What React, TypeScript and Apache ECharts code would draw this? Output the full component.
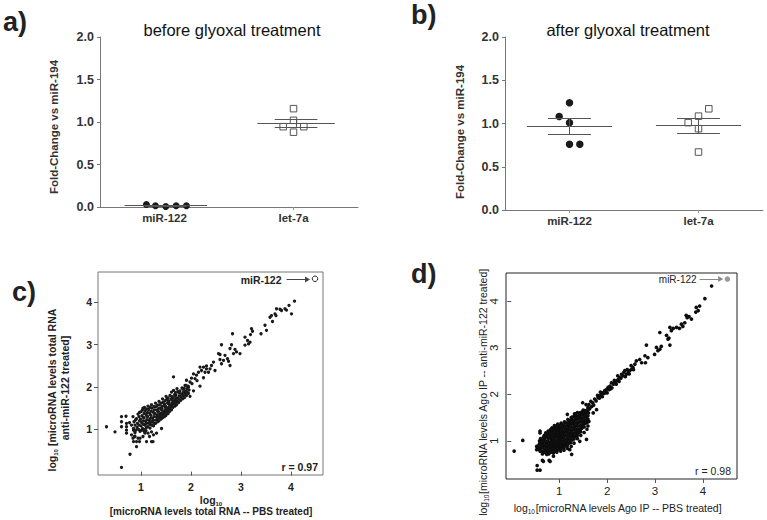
import React, { useEffect, useRef } from 'react';
import * as echarts from 'echarts';

const FONT = '"Liberation Sans", Arial, Helvetica, sans-serif';

// ---------- panels a) and b): fold-change dot plots ----------
const categories = ['miR-122', 'let-7a'];
const yTicksAB = [0, 0.5, 1.0, 1.5, 2.0];

// x = category slot position (jitter), y = fold change
const aMiR122X = [0.36, 0.43, 0.51, 0.59, 0.67];
const aMiR122Y = [0.03, 0.015, 0.005, 0.015, 0.015];
const aLet7aX = [1.5, 1.5, 1.42, 1.58, 1.5];
const aLet7aY = [1.157, 1.02, 0.945, 0.945, 0.88];

const bMiR122X = [0.5, 0.42, 0.5, 0.5, 0.58];
const bMiR122Y = [1.24, 1.08, 1.01, 0.76, 0.76];
const bLet7aX = [1.58, 1.5, 1.42, 1.5, 1.5];
const bLet7aY = [1.17, 1.085, 1.01, 0.94, 0.67];

// ---------- panel c): total RNA, log10 levels ----------
const logTicks = [1, 2, 3, 4];
const cMiR122: [number, number] = [4.48, 4.56];
const cPoints: [number, number][] = [
  // sparse low end
  [0.31, 1.06], [0.48, 0.94], [0.61, 1.3], [0.61, 1.18], [0.61, 1.06], [0.61, 0.1], [0.7, 1.31],
  [0.71, 1.14], [0.71, 1.06], [0.71, 0.91], [0.71, 0.98], [0.78, 0.41], [0.81, 1.1], [0.77, 1.16],
  [0.81, 0.87], [0.85, 0.98], [0.88, 0.83], [0.91, 0.71], [0.85, 0.71], [0.91, 0.59], [0.98, 0.79],
  [0.97, 0.71], [1.08, 0.91], [1.11, 0.71], [1.21, 0.71], [1.24, 0.71], [1.25, 0.87], [1.31, 0.91],
  [1.41, 1.02], [0.84, 0.79], [0.94, 0.79], [1.04, 0.83], [1.17, 0.83], [1.07, 0.94], [1.14, 0.91],
  [1.21, 0.94], [0.87, 0.83], [1.01, 0.98],
  // dense core
  [0.85, 1.02], [0.86, 1.18], [0.84, 1.3], [0.88, 0.92],
  [0.92, 1.05], [0.93, 1.14], [0.91, 1.25], [0.94, 1.36], [0.9, 0.98],
  [0.98, 0.95], [1.0, 1.08], [1.01, 1.16], [0.99, 1.24], [1.02, 1.32], [1.0, 1.42], [1.03, 1.02], [1.04, 1.5],
  [1.07, 1.0], [1.08, 1.1], [1.09, 1.19], [1.06, 1.27], [1.1, 1.35], [1.08, 1.44], [1.11, 1.05], [1.07, 1.52],
  [1.14, 1.06], [1.15, 1.15], [1.16, 1.22], [1.13, 1.3], [1.17, 1.38], [1.15, 1.47], [1.18, 1.12], [1.14, 1.55],
  [1.21, 1.1], [1.22, 1.18], [1.23, 1.26], [1.2, 1.33], [1.24, 1.41], [1.22, 1.5], [1.25, 1.21], [1.21, 1.58],
  [1.29, 1.14], [1.3, 1.22], [1.31, 1.3], [1.28, 1.37], [1.32, 1.45], [1.3, 1.53], [1.33, 1.28], [1.29, 1.62],
  [1.36, 1.2], [1.37, 1.28], [1.38, 1.35], [1.35, 1.42], [1.39, 1.5], [1.37, 1.58], [1.4, 1.33], [1.36, 1.66],
  [1.43, 1.27], [1.44, 1.35], [1.45, 1.42], [1.42, 1.49], [1.46, 1.56], [1.44, 1.64], [1.47, 1.39], [1.43, 1.72],
  [1.5, 1.33], [1.51, 1.41], [1.52, 1.48], [1.49, 1.55], [1.53, 1.62], [1.51, 1.7], [1.54, 1.45], [1.5, 1.78],
  [1.57, 1.42], [1.58, 1.5], [1.59, 1.57], [1.56, 1.64], [1.6, 1.71], [1.58, 1.8], [1.61, 1.88],
  [1.64, 1.52], [1.65, 1.6], [1.66, 1.67], [1.63, 1.74], [1.67, 1.82], [1.65, 1.92],
  [1.71, 1.58], [1.72, 1.66], [1.73, 1.74], [1.7, 1.81], [1.74, 1.89], [1.72, 1.96],
  [1.79, 1.68], [1.8, 1.76], [1.81, 1.84], [1.78, 1.91], [1.82, 1.98],
  [1.87, 1.75], [1.88, 1.83], [1.89, 1.9], [1.86, 1.97], [1.9, 2.04],
  [1.95, 1.85], [1.96, 1.93], [1.94, 2.02],
  // dense core, in-between points
  [0.88, 1.1], [0.89, 1.22], [0.87, 0.97],
  [0.95, 1.0], [0.96, 1.1], [0.97, 1.2], [0.96, 1.3], [0.97, 1.4],
  [1.04, 0.98], [1.05, 1.12], [1.04, 1.2], [1.05, 1.28], [1.06, 1.38], [1.03, 1.46],
  [1.11, 1.14], [1.12, 1.23], [1.12, 1.31], [1.13, 1.4], [1.11, 1.48], [1.1, 0.97],
  [1.18, 1.03], [1.19, 1.18], [1.19, 1.26], [1.2, 1.43], [1.18, 1.52], [1.19, 1.34],
  [1.25, 1.08], [1.26, 1.14], [1.26, 1.3], [1.27, 1.37], [1.27, 1.46], [1.26, 1.54],
  [1.33, 1.18], [1.34, 1.25], [1.33, 1.34], [1.34, 1.41], [1.35, 1.49], [1.33, 1.57],
  [1.4, 1.24], [1.41, 1.31], [1.41, 1.39], [1.41, 1.46], [1.42, 1.54], [1.4, 1.62],
  [1.47, 1.3], [1.48, 1.38], [1.48, 1.46], [1.49, 1.52], [1.47, 1.6], [1.48, 1.68],
  [1.54, 1.37], [1.55, 1.45], [1.55, 1.52], [1.56, 1.59], [1.55, 1.67], [1.54, 1.74],
  [1.61, 1.46], [1.62, 1.54], [1.62, 1.61], [1.63, 1.68], [1.62, 1.77],
  [1.68, 1.55], [1.69, 1.63], [1.69, 1.71], [1.68, 1.78], [1.69, 1.87],
  [1.75, 1.63], [1.76, 1.71], [1.77, 1.79], [1.76, 1.86],
  [1.83, 1.72], [1.84, 1.8], [1.85, 1.88], [1.84, 1.95],
  [1.91, 1.8], [1.92, 1.88], [1.92, 1.96],
  // band 2 – 4
  [1.65, 2.24], [1.88, 1.86], [2.05, 1.91], [2.18, 2.02], [2.12, 2.15], [2.25, 2.22], [2.02, 2.08], [1.98, 1.78],
  [1.85, 1.96], [1.88, 2.04], [1.95, 2.0], [1.91, 2.16], [1.98, 2.12], [2.01, 2.21], [2.08, 2.2], [2.05, 2.31],
  [2.11, 2.28], [2.15, 2.35], [2.28, 2.35], [2.18, 2.47], [2.21, 2.39], [2.25, 2.47], [2.35, 2.35], [2.31, 2.43],
  [2.48, 2.39], [2.38, 2.43], [2.41, 2.51], [2.45, 2.59], [2.31, 2.5], [2.78, 2.51], [2.55, 2.79], [2.61, 2.55],
  [2.58, 2.65], [2.65, 2.63], [2.75, 2.61], [2.73, 2.67], [2.68, 2.75], [2.58, 2.77], [2.61, 3.0], [2.85, 2.79],
  [2.98, 2.79], [2.91, 2.83], [2.88, 2.89], [2.78, 2.91], [2.81, 3.0], [3.15, 3.02], [3.08, 2.99], [3.18, 3.06],
  [3.13, 3.1], [3.08, 3.18], [2.83, 3.26], [3.19, 3.24], [3.23, 3.32], [3.21, 3.38], [3.4, 3.26], [3.51, 3.34],
  [3.48, 3.46], [3.63, 3.55], [3.7, 3.69], [3.58, 3.65], [3.61, 3.69], [3.68, 3.73], [3.71, 3.85], [3.81, 3.81],
  [4.01, 3.73], [3.88, 3.85], [3.96, 3.93], [4.07, 4.03], [3.78, 3.84], [3.91, 3.82],
];

// ---------- panel d): Ago IP, log10 levels ----------
const dMiR122: [number, number] = [4.51, 4.48];
const dPoints: [number, number][] = [
  // sparse low end
  [0.06, 0.78], [0.24, 1.01], [0.54, 0.47], [0.54, 0.37], [0.6, 0.37], [0.65, 0.58], [0.79, 0.58],
  [0.6, 1.21], [0.53, 0.88], [0.6, 0.78], [0.53, 0.81], [0.74, 0.71], [0.88, 0.67], [0.67, 0.56],
  [0.81, 0.56], [1.22, 0.81], [1.26, 0.71], [0.6, 1.17], [1.43, 0.99], [1.57, 1.03], [1.17, 1.57],
  // dense core
  [0.57, 0.82], [0.58, 0.92], [0.59, 1.0], [0.56, 0.86], [0.6, 0.96],
  [0.64, 0.78], [0.65, 0.86], [0.66, 0.94], [0.63, 1.02], [0.67, 1.08], [0.65, 0.72],
  [0.71, 0.8], [0.72, 0.88], [0.73, 0.95], [0.7, 1.03], [0.74, 1.1], [0.72, 1.17], [0.73, 0.74],
  [0.78, 0.78], [0.79, 0.85], [0.8, 0.92], [0.77, 0.99], [0.81, 1.06], [0.79, 1.13], [0.8, 1.2], [0.78, 0.72],
  [0.85, 0.8], [0.86, 0.87], [0.87, 0.94], [0.84, 1.01], [0.88, 1.08], [0.86, 1.15], [0.87, 1.22], [0.85, 1.28], [0.88, 0.74],
  [0.92, 0.82], [0.93, 0.89], [0.94, 0.96], [0.91, 1.03], [0.95, 1.1], [0.93, 1.17], [0.94, 1.24], [0.92, 1.31], [0.95, 0.76],
  [0.99, 0.84], [1.0, 0.91], [1.01, 0.98], [0.98, 1.05], [1.02, 1.12], [1.0, 1.19], [1.01, 1.26], [0.99, 1.33], [1.03, 0.78],
  [1.06, 0.86], [1.07, 0.93], [1.08, 1.0], [1.05, 1.07], [1.09, 1.14], [1.07, 1.21], [1.08, 1.28], [1.06, 1.35], [1.1, 0.8],
  [1.13, 0.9], [1.14, 0.97], [1.15, 1.04], [1.12, 1.11], [1.16, 1.18], [1.14, 1.25], [1.15, 1.32], [1.13, 1.39], [1.17, 0.84],
  [1.2, 0.95], [1.21, 1.02], [1.22, 1.09], [1.19, 1.16], [1.23, 1.23], [1.21, 1.3], [1.22, 1.37], [1.2, 1.44],
  [1.27, 1.02], [1.28, 1.09], [1.29, 1.16], [1.26, 1.23], [1.3, 1.3], [1.28, 1.37], [1.29, 1.44], [1.27, 1.51],
  [1.34, 1.1], [1.35, 1.17], [1.36, 1.24], [1.33, 1.31], [1.37, 1.38], [1.35, 1.45], [1.36, 1.52], [1.34, 1.58],
  [1.41, 1.18], [1.42, 1.25], [1.43, 1.32], [1.4, 1.39], [1.44, 1.46], [1.42, 1.53], [1.43, 1.6],
  [1.48, 1.28], [1.49, 1.35], [1.5, 1.42], [1.47, 1.49], [1.51, 1.56], [1.49, 1.62],
  [1.55, 1.38], [1.56, 1.45], [1.57, 1.52], [1.54, 1.58], [1.58, 1.65],
  [1.45, 1.12], [1.52, 1.18], [1.58, 1.25], [1.6, 1.32], [1.62, 1.42], [1.38, 1.05], [1.31, 0.95], [1.25, 0.88],
  // dense core, in-between points
  [0.61, 0.84], [0.62, 0.9], [0.62, 0.98], [0.61, 1.05],
  [0.68, 0.75], [0.69, 0.82], [0.69, 0.9], [0.68, 0.98], [0.7, 1.06], [0.69, 1.12],
  [0.75, 0.76], [0.76, 0.84], [0.76, 0.91], [0.75, 0.99], [0.77, 1.06], [0.76, 1.14], [0.77, 1.21],
  [0.82, 0.75], [0.83, 0.82], [0.83, 0.89], [0.82, 0.96], [0.84, 1.03], [0.83, 1.1], [0.84, 1.17], [0.82, 1.24],
  [0.89, 0.77], [0.9, 0.84], [0.9, 0.91], [0.89, 0.98], [0.91, 1.05], [0.9, 1.12], [0.91, 1.19], [0.89, 1.26], [0.9, 1.33],
  [0.96, 0.8], [0.97, 0.86], [0.97, 0.93], [0.96, 1.0], [0.98, 1.07], [0.97, 1.14], [0.98, 1.21], [0.96, 1.28], [0.97, 1.36],
  [1.03, 0.82], [1.04, 0.88], [1.04, 0.95], [1.03, 1.02], [1.05, 1.09], [1.04, 1.16], [1.05, 1.23], [1.03, 1.3], [1.04, 1.38],
  [1.1, 0.86], [1.11, 0.92], [1.11, 0.99], [1.1, 1.06], [1.12, 1.13], [1.11, 1.2], [1.12, 1.27], [1.1, 1.34], [1.11, 1.41],
  [1.17, 0.9], [1.18, 0.96], [1.18, 1.03], [1.17, 1.1], [1.19, 1.17], [1.18, 1.24], [1.19, 1.31], [1.17, 1.38], [1.18, 1.46],
  [1.24, 0.96], [1.25, 1.02], [1.25, 1.09], [1.24, 1.16], [1.26, 1.23], [1.25, 1.3], [1.26, 1.37], [1.24, 1.44], [1.25, 1.5],
  [1.31, 1.04], [1.32, 1.1], [1.32, 1.17], [1.31, 1.24], [1.33, 1.31], [1.32, 1.38], [1.33, 1.45], [1.31, 1.52], [1.32, 1.58],
  [1.38, 1.12], [1.39, 1.19], [1.39, 1.26], [1.38, 1.33], [1.4, 1.4], [1.39, 1.47], [1.4, 1.54], [1.38, 1.61],
  [1.45, 1.2], [1.46, 1.27], [1.46, 1.34], [1.45, 1.41], [1.47, 1.48], [1.46, 1.55], [1.47, 1.62],
  [1.52, 1.3], [1.53, 1.37], [1.53, 1.44], [1.52, 1.51], [1.54, 1.58], [1.53, 1.65],
  [1.59, 1.4], [1.6, 1.47], [1.6, 1.54], [1.61, 1.6], [1.62, 1.68],
  // band 1.5 – 4.2
  [1.49, 1.82], [1.56, 1.78], [1.71, 1.6], [1.78, 1.67], [1.62, 1.78], [1.66, 1.85], [1.7, 1.82], [1.74, 1.9],
  [1.77, 1.86], [1.8, 1.98], [1.84, 1.92], [1.86, 2.05], [1.9, 1.95], [1.94, 2.02], [1.97, 2.05], [2.0, 2.03],
  [2.04, 2.1], [2.07, 2.12], [2.1, 2.14], [2.15, 2.3], [2.19, 2.22], [2.22, 2.4], [2.25, 2.28], [2.29, 2.35],
  [2.35, 2.48], [2.38, 2.38], [2.42, 2.53], [2.46, 2.44], [2.5, 2.62], [2.55, 2.53], [1.68, 1.74], [1.72, 1.77],
  [1.64, 1.7], [1.6, 1.72], [1.58, 1.66], [1.56, 1.62], [1.53, 1.6], [1.5, 1.66],
  [1.81, 1.93], [1.85, 1.97], [1.88, 2.0], [1.92, 2.04], [1.95, 2.08], [1.99, 2.11], [2.02, 2.15], [2.06, 2.18],
  [2.09, 2.25], [2.13, 2.22], [2.16, 2.25], [2.2, 2.29], [2.23, 2.32], [2.26, 2.36], [2.3, 2.43], [2.33, 2.4],
  [2.37, 2.51], [2.4, 2.43], [2.44, 2.47], [2.47, 2.51], [2.51, 2.54], [2.54, 2.58], [2.58, 2.65], [2.61, 2.72],
  [2.72, 2.68], [2.68, 2.75], [2.85, 2.79], [2.79, 2.83], [2.8, 2.68], [2.99, 2.86], [3.06, 2.94], [3.1, 2.97],
  [3.03, 3.01], [2.82, 3.06], [3.13, 3.03], [3.31, 3.06], [3.27, 3.19], [3.29, 3.21], [3.24, 3.27], [3.1, 3.33],
  [3.34, 3.37], [3.31, 3.44], [3.38, 3.42], [3.45, 3.44], [3.51, 3.42], [3.58, 3.46], [3.62, 3.54], [3.55, 3.51],
  [3.67, 3.65], [3.76, 3.62], [3.71, 3.67], [3.65, 3.7], [3.93, 3.9], [3.85, 3.77], [3.9, 3.8], [3.86, 3.87],
  [4.04, 4.06], [4.18, 4.33],
];

function meanSem(ys: number[]): [number, number] {
  const n = ys.length;
  const m = ys.reduce((a, b) => a + b, 0) / n;
  const v = ys.reduce((a, b) => a + (b - m) * (b - m), 0) / (n - 1);
  return [m, Math.sqrt(v / n)];
}

function errorMarks(ys: number[], center: number, halfMean: number, halfErr: number) {
  const [m, s] = meanSem(ys);
  return {
    silent: true,
    symbol: ['none', 'none'],
    label: { show: false },
    lineStyle: { color: '#555', width: 1, type: 'solid' },
    emphasis: { disabled: true },
    data: [
      [{ coord: [center - halfMean, m] }, { coord: [center + halfMean, m] }],
      [{ coord: [center - halfErr, m + s] }, { coord: [center + halfErr, m + s] }],
      [{ coord: [center - halfErr, m - s] }, { coord: [center + halfErr, m - s] }],
      [{ coord: [center, m - s] }, { coord: [center, m + s] }],
    ],
  };
}

const zip = (xs: number[], ys: number[]) => xs.map((x, i) => [x, ys[i]]);

function foldXAxis(gridIndex: number) {
  return {
    type: 'value', gridIndex, min: 0, max: 2,
    axisLine: { show: true, lineStyle: { color: '#777', width: 1 } },
    axisTick: { show: true, customValues: [0.5, 1.5], length: 3, lineStyle: { color: '#999' } },
    axisLabel: {
      customValues: [0.5, 1.5], margin: 5,
      formatter: (v: number) => categories[Math.floor(v)],
      fontFamily: FONT, fontWeight: 'bold', fontSize: 11.5, color: '#333',
    },
    splitLine: { show: false },
  };
}

function foldYAxis(gridIndex: number) {
  return {
    type: 'value', gridIndex, min: 0, max: 2, interval: 0.5,
    axisLine: { show: true, lineStyle: { color: '#777', width: 1 } },
    axisTick: { show: true, customValues: yTicksAB, length: 3, lineStyle: { color: '#777' } },
    axisLabel: {
      customValues: yTicksAB, margin: 6,
      formatter: (v: number) => v.toFixed(1),
      fontFamily: FONT, fontWeight: 'bold', fontSize: 12.5, color: '#333',
    },
    splitLine: { show: false },
  };
}

function logAxis(gridIndex: number, min: number, max: number, bold: boolean, rotate: number, size: number) {
  return {
    type: 'value', gridIndex, min, max,
    axisLine: { show: false },
    axisTick: { show: true, customValues: logTicks, length: 4, lineStyle: { color: '#555' } },
    axisLabel: {
      customValues: logTicks, margin: 6, rotate,
      fontFamily: FONT, fontWeight: bold ? 'bold' : 'normal', fontSize: size, color: '#222',
    },
    splitLine: { show: false },
  };
}

const dot = (color: string, size: number) => ({ symbol: 'circle', symbolSize: size, itemStyle: { color, opacity: 1 } });

export default function App() {
  const ref = useRef<HTMLDivElement>(null);
  useEffect(() => {
    if (!ref.current) return;
    const chart = echarts.init(ref.current, null, { renderer: 'svg' });
    const bold = (size: number) => ({ fontFamily: FONT, fontWeight: 'bold', fontSize: size, fill: '#222' });
    const norm = (size: number) => ({ fontFamily: FONT, fontWeight: 'normal', fontSize: size, fill: '#222' });
    const openSquare = { symbol: 'rect', symbolSize: 6.5, itemStyle: { color: '#fff', borderColor: '#555', borderWidth: 1, opacity: 1 } };
    const option: any = {
      animation: false,
      backgroundColor: '#fff',
      textStyle: { fontFamily: FONT },
      grid: [
        { left: 100, top: 37, width: 258, height: 170 },
        { left: 505, top: 37, width: 258, height: 173 },
        { left: 98, top: 272, width: 225, height: 203, show: true, borderColor: '#777', borderWidth: 1, backgroundColor: 'transparent' },
        { left: 506, top: 273, width: 231, height: 206, show: true, borderColor: '#222', borderWidth: 1, backgroundColor: 'transparent' },
      ],
      xAxis: [
        foldXAxis(0),
        foldXAxis(1),
        logAxis(2, 0.14, 4.64, true, 0, 10.5),
        logAxis(3, -0.11, 4.71, false, 0, 11.5),
      ],
      yAxis: [
        foldYAxis(0),
        foldYAxis(1),
        logAxis(2, -0.08, 4.72, true, 0, 10.5),
        logAxis(3, 0.18, 4.61, false, 90, 11.5),
      ],
      series: [
        {
          type: 'scatter', xAxisIndex: 0, yAxisIndex: 0, data: zip(aMiR122X, aMiR122Y),
          ...dot('#1a1a1a', 7), markLine: errorMarks(aMiR122Y, 0.51, 0.32, 0.16),
        },
        {
          type: 'scatter', xAxisIndex: 0, yAxisIndex: 0, data: zip(aLet7aX, aLet7aY), ...openSquare,
          markLine: errorMarks(aLet7aY, 1.52, 0.3, 0.165),
        },
        {
          type: 'scatter', xAxisIndex: 1, yAxisIndex: 1, data: zip(bMiR122X, bMiR122Y),
          ...dot('#1a1a1a', 7.5), markLine: errorMarks(bMiR122Y, 0.5, 0.33, 0.166),
        },
        {
          type: 'scatter', xAxisIndex: 1, yAxisIndex: 1, data: zip(bLet7aX, bLet7aY), ...openSquare,
          markLine: errorMarks(bLet7aY, 1.5, 0.33, 0.166),
        },
        {
          type: 'scatter', xAxisIndex: 2, yAxisIndex: 2, data: cPoints, ...dot('#1a1a1a', 3.3),
        },
        {
          type: 'scatter', xAxisIndex: 2, yAxisIndex: 2, data: [cMiR122],
          symbol: 'circle', symbolSize: 5.5, itemStyle: { color: '#fff', borderColor: '#222', borderWidth: 1, opacity: 1 },
          markLine: {
            silent: true, symbol: ['none', 'triangle'], symbolSize: [6, 5],
            lineStyle: { color: '#444', width: 1, type: 'solid' },
            label: { show: true, position: 'start', distance: 5, formatter: 'miR-122', fontFamily: FONT, fontWeight: 'bold', fontSize: 10.5, color: '#222' },
            data: [[{ coord: [3.91, cMiR122[1] - 0.02] }, { coord: [4.33, cMiR122[1] - 0.02] }]],
          },
        },
        {
          type: 'scatter', xAxisIndex: 3, yAxisIndex: 3, data: dPoints, ...dot('#0d0d0d', 3.7),
        },
        {
          type: 'scatter', xAxisIndex: 3, yAxisIndex: 3, data: [dMiR122], ...dot('#999', 5.5),
          markLine: {
            silent: true, symbol: ['none', 'triangle'], symbolSize: [6, 5],
            lineStyle: { color: '#888', width: 1, type: 'solid' },
            label: { show: true, position: 'start', distance: 3, formatter: 'miR-122', fontFamily: FONT, fontSize: 10, color: '#222' },
            data: [[{ coord: [3.93, dMiR122[1]] }, { coord: [4.37, dMiR122[1]] }]],
          },
        },
      ],
      graphic: [
        { type: 'text', x: 3, y: 22, style: { text: 'a)', ...bold(27), verticalAlign: 'middle' } },
        { type: 'text', x: 411, y: 15, style: { text: 'b)', ...bold(27), verticalAlign: 'middle' } },
        { type: 'text', x: 12, y: 292, style: { text: 'c)', ...bold(27), verticalAlign: 'middle' } },
        { type: 'text', x: 411, y: 274, style: { text: 'd)', ...bold(27), verticalAlign: 'middle' } },
        { type: 'text', x: 232, y: 30, style: { text: 'before glyoxal treatment', ...norm(16.5), fill: '#111', align: 'center', verticalAlign: 'middle' } },
        { type: 'text', x: 628, y: 30, style: { text: 'after glyoxal treatment', ...norm(16.5), fill: '#111', align: 'center', verticalAlign: 'middle' } },
        { type: 'text', x: 54, y: 127, rotation: Math.PI / 2, style: { text: 'Fold-Change vs miR-194', ...bold(11.5), fill: '#333', align: 'center', verticalAlign: 'middle' } },
        { type: 'text', x: 460, y: 132, rotation: Math.PI / 2, style: { text: 'Fold-Change vs miR-194', ...bold(11.5), fill: '#333', align: 'center', verticalAlign: 'middle' } },
        {
          type: 'text', x: 52, y: 390, rotation: Math.PI / 2,
          style: {
            text: '{n|log}{s|10}{n| [microRNA levels total RNA}', align: 'center', verticalAlign: 'middle', fill: '#222',
            rich: { n: { ...bold(10.5), lineHeight: 13 }, s: { ...bold(6), lineHeight: 13, verticalAlign: 'bottom' } },
          },
        },
        { type: 'text', x: 65, y: 388, rotation: Math.PI / 2, style: { text: 'anti-miR-122 treated]', ...bold(10.5), align: 'center', verticalAlign: 'middle' } },
        {
          type: 'text', x: 211, y: 500,
          style: {
            text: '{n|log}{s|10}', align: 'center', verticalAlign: 'middle', fill: '#222',
            rich: { n: { ...bold(10.5), lineHeight: 13 }, s: { ...bold(6), lineHeight: 13, verticalAlign: 'bottom' } },
          },
        },
        { type: 'text', x: 211, y: 511, style: { text: '[microRNA levels total RNA -- PBS treated]', ...bold(10), align: 'center', verticalAlign: 'middle' } },
        { type: 'text', x: 318, y: 467, style: { text: 'r = 0.97', ...bold(10.5), align: 'right', verticalAlign: 'middle' } },
        {
          type: 'text', x: 483, y: 392, rotation: Math.PI / 2,
          style: {
            text: '{n|log}{s|10}{n|[microRNA levels Ago IP -- anti-miR-122 treated]}', align: 'center', verticalAlign: 'middle', fill: '#222',
            rich: { n: { ...norm(10.5), lineHeight: 13 }, s: { ...norm(6.5), lineHeight: 13, verticalAlign: 'bottom' } },
          },
        },
        {
          type: 'text', x: 618, y: 508,
          style: {
            text: '{n|log}{s|10}{n|[microRNA levels Ago IP -- PBS treated]}', align: 'center', verticalAlign: 'middle', fill: '#222',
            rich: { n: { ...norm(10.5), lineHeight: 13 }, s: { ...norm(6.5), lineHeight: 13, verticalAlign: 'bottom' } },
          },
        },
        { type: 'text', x: 731, y: 471, style: { text: 'r = 0.98', ...norm(10.5), align: 'right', verticalAlign: 'middle' } },
      ],
    };
    chart.setOption(option);
    return () => chart.dispose();
  }, []);
  return <div ref={ref} style={{ position: 'absolute', left: 0, top: 0, width: 767, height: 520 }} />;
}
